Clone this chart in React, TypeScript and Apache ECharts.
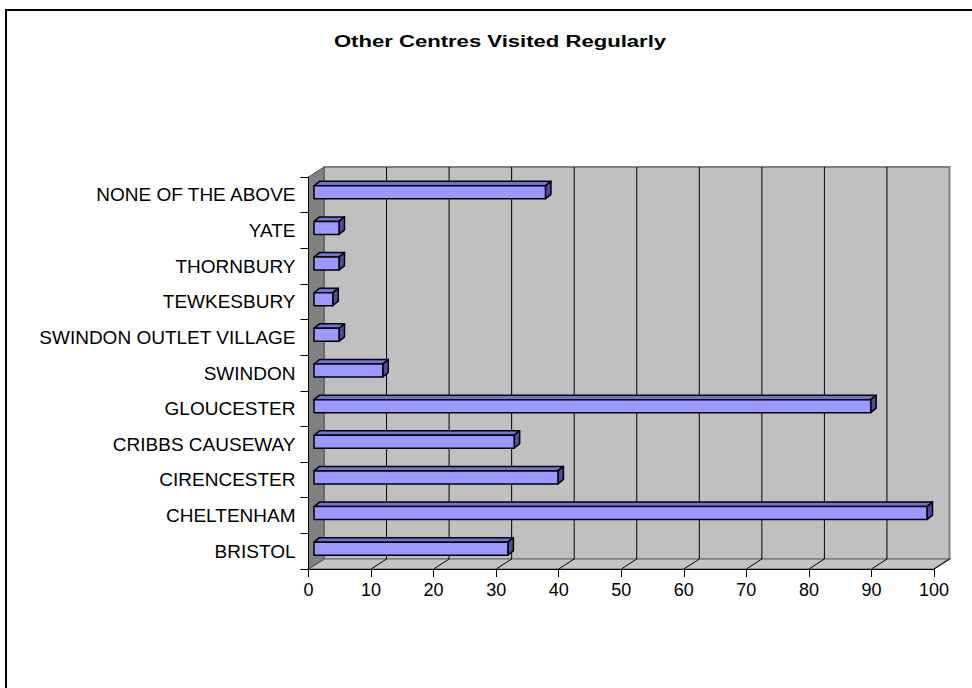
import React, { useEffect, useRef } from "react";
import * as echarts from "echarts";

const chartTitle = "Other Centres Visited Regularly";
const categories = [
  "BRISTOL",
  "CHELTENHAM",
  "CIRENCESTER",
  "CRIBBS CAUSEWAY",
  "GLOUCESTER",
  "SWINDON",
  "SWINDON OUTLET VILLAGE",
  "TEWKESBURY",
  "THORNBURY",
  "YATE",
  "NONE OF THE ABOVE",
];
const values = [31, 98, 39, 32, 89, 11, 4, 3, 4, 4, 37];
const xTicks = [0, 10, 20, 30, 40, 50, 60, 70, 80, 90, 100];

const FONT = "'Liberation Sans', Arial, Helvetica, sans-serif";
const DX = 15.5; // wall depth offset x
const DY = -10; // wall depth offset y

export default function App() {
  const ref = useRef<HTMLDivElement>(null);

  useEffect(() => {
    if (!ref.current) return;
    const chart = echarts.init(ref.current, undefined, { renderer: "svg" });

    const option: any = {
      animation: false,
      backgroundColor: "#ffffff",
      graphic: [
        {
          type: "rect",
          shape: { x: 6, y: 10, width: 1000, height: 1000 },
          style: { fill: "none", stroke: "#000", lineWidth: 2 },
          z: 0,
          silent: true,
        },
        {
          type: "text",
          x: 500,
          y: 41,
          scaleX: 1.3,
          style: {
            text: chartTitle,
            x: 0,
            y: 0,
            align: "center",
            verticalAlign: "middle",
            fontFamily: FONT,
            fontWeight: "bold",
            fontSize: 17,
            fill: "#000",
          },
          z: 10,
        },
      ],
      grid: {
        left: 308.5,
        right: 38,
        top: 177,
        bottom: 119,
        containLabel: false,
      },
      xAxis: {
        type: "value",
        min: 0,
        max: 100,
        interval: 10,
        z: 6,
        axisLine: { show: true, lineStyle: { color: "#000", width: 1 } },
        axisTick: { show: true, length: 8, lineStyle: { color: "#000" } },
        splitLine: { show: false },
        axisLabel: {
          fontSize: 18,
          color: "#000",
          fontFamily: FONT,
          margin: 12,
        },
      },
      yAxis: {
        type: "category",
        data: categories,
        z: 6,
        axisLine: { show: true, lineStyle: { color: "#000", width: 1 } },
        axisTick: { show: true, length: 8, lineStyle: { color: "#000" } },
        splitLine: { show: false },
        axisLabel: {
          fontSize: 19,
          color: "#000",
          fontFamily: FONT,
          margin: 13,
        },
      },
      series: [
        {
          type: "custom",
          name: "walls",
          z: 1,
          silent: true,
          encode: { x: 0, y: 1 },
          data: [[0, 0]],
          renderItem: (params: any, api: any) => {
            const cs = params.coordSys;
            const x0 = cs.x;
            const x1 = cs.x + cs.width;
            const y0 = cs.y;
            const y1 = cs.y + cs.height;
            return {
              type: "group",
              children: [
                {
                  type: "polygon",
                  shape: {
                    points: [
                      [x0 + DX, y0 + DY],
                      [x1 + DX, y0 + DY],
                      [x1 + DX, y1 + DY],
                      [x0 + DX, y1 + DY],
                    ],
                  },
                  style: { fill: "#C0C0C0", stroke: "#808080", lineWidth: 2 },
                },
                {
                  type: "polygon",
                  shape: {
                    points: [
                      [x0, y1],
                      [x0 + DX, y1 + DY],
                      [x1 + DX, y1 + DY],
                      [x1, y1],
                    ],
                  },
                  style: { fill: "#C4C4C4", stroke: "#808080", lineWidth: 1.5 },
                },
                {
                  type: "polygon",
                  shape: {
                    points: [
                      [x0, y0],
                      [x0 + DX, y0 + DY],
                      [x0 + DX, y1 + DY],
                      [x0, y1],
                    ],
                  },
                  style: { fill: "#808080", stroke: "#555", lineWidth: 1 },
                },
              ],
            };
          },
        },
        {
          type: "custom",
          name: "grid",
          z: 2,
          silent: true,
          encode: { x: 0, y: 1 },
          data: xTicks.map((t) => [t, 0]),
          renderItem: (params: any, api: any) => {
            const cs = params.coordSys;
            const v = api.value(0);
            const p = api.coord([v, 0]);
            const x = p[0];
            const y0 = cs.y;
            const y1 = cs.y + cs.height;
            const children: any[] = [];
            if (v > 0 && v < 100) {
              children.push({
                type: "line",
                shape: { x1: x + DX, y1: y0 + DY, x2: x + DX, y2: y1 + DY },
                style: { stroke: "#000", lineWidth: 1 },
              });
            }
            if (v > 0) {
              children.push({
                type: "line",
                shape: { x1: x, y1: y1, x2: x + DX, y2: y1 + DY },
                style: { stroke: "#000", lineWidth: 1 },
              });
            }
            return { type: "group", children };
          },
        },
        {
          type: "custom",
          name: "Centres",
          z: 3,
          encode: { x: 0, y: 1 },
          data: values.map((v, i) => [v, i]),
          renderItem: (params: any, api: any) => {
            const v = api.value(0);
            const i = api.value(1);
            const p0 = api.coord([0, i]);
            const p1 = api.coord([v, i]);
            const ox = 5.5;
            const oy = -2.5;
            const h = 13;
            const ddx = 5.5;
            const ddy = -4.5;
            const bx0 = p0[0] + ox;
            const bx1 = p1[0] + ox;
            const top = p0[1] + oy - h / 2;
            const bot = p0[1] + oy + h / 2;
            const stroke = { stroke: "#000", lineWidth: 1.5, lineJoin: "round" };
            return {
              type: "group",
              children: [
                {
                  type: "polygon",
                  shape: {
                    points: [
                      [bx0, top],
                      [bx0 + ddx, top + ddy],
                      [bx1 + ddx, top + ddy],
                      [bx1, top],
                    ],
                  },
                  style: { fill: "#7373D6", ...stroke },
                },
                {
                  type: "polygon",
                  shape: {
                    points: [
                      [bx1, top],
                      [bx1 + ddx, top + ddy],
                      [bx1 + ddx, bot + ddy],
                      [bx1, bot],
                    ],
                  },
                  style: { fill: "#4D4D99", ...stroke },
                },
                {
                  type: "rect",
                  shape: { x: bx0, y: top, width: bx1 - bx0, height: h },
                  style: { fill: "#9999FF", ...stroke },
                },
              ],
            };
          },
        },
      ],
    };

    chart.setOption(option);
    return () => {
      chart.dispose();
    };
  }, []);

  return (
    <div
      ref={ref}
      style={{ position: "fixed", left: 0, top: 0, width: 972, height: 688 }}
    />
  );
}
